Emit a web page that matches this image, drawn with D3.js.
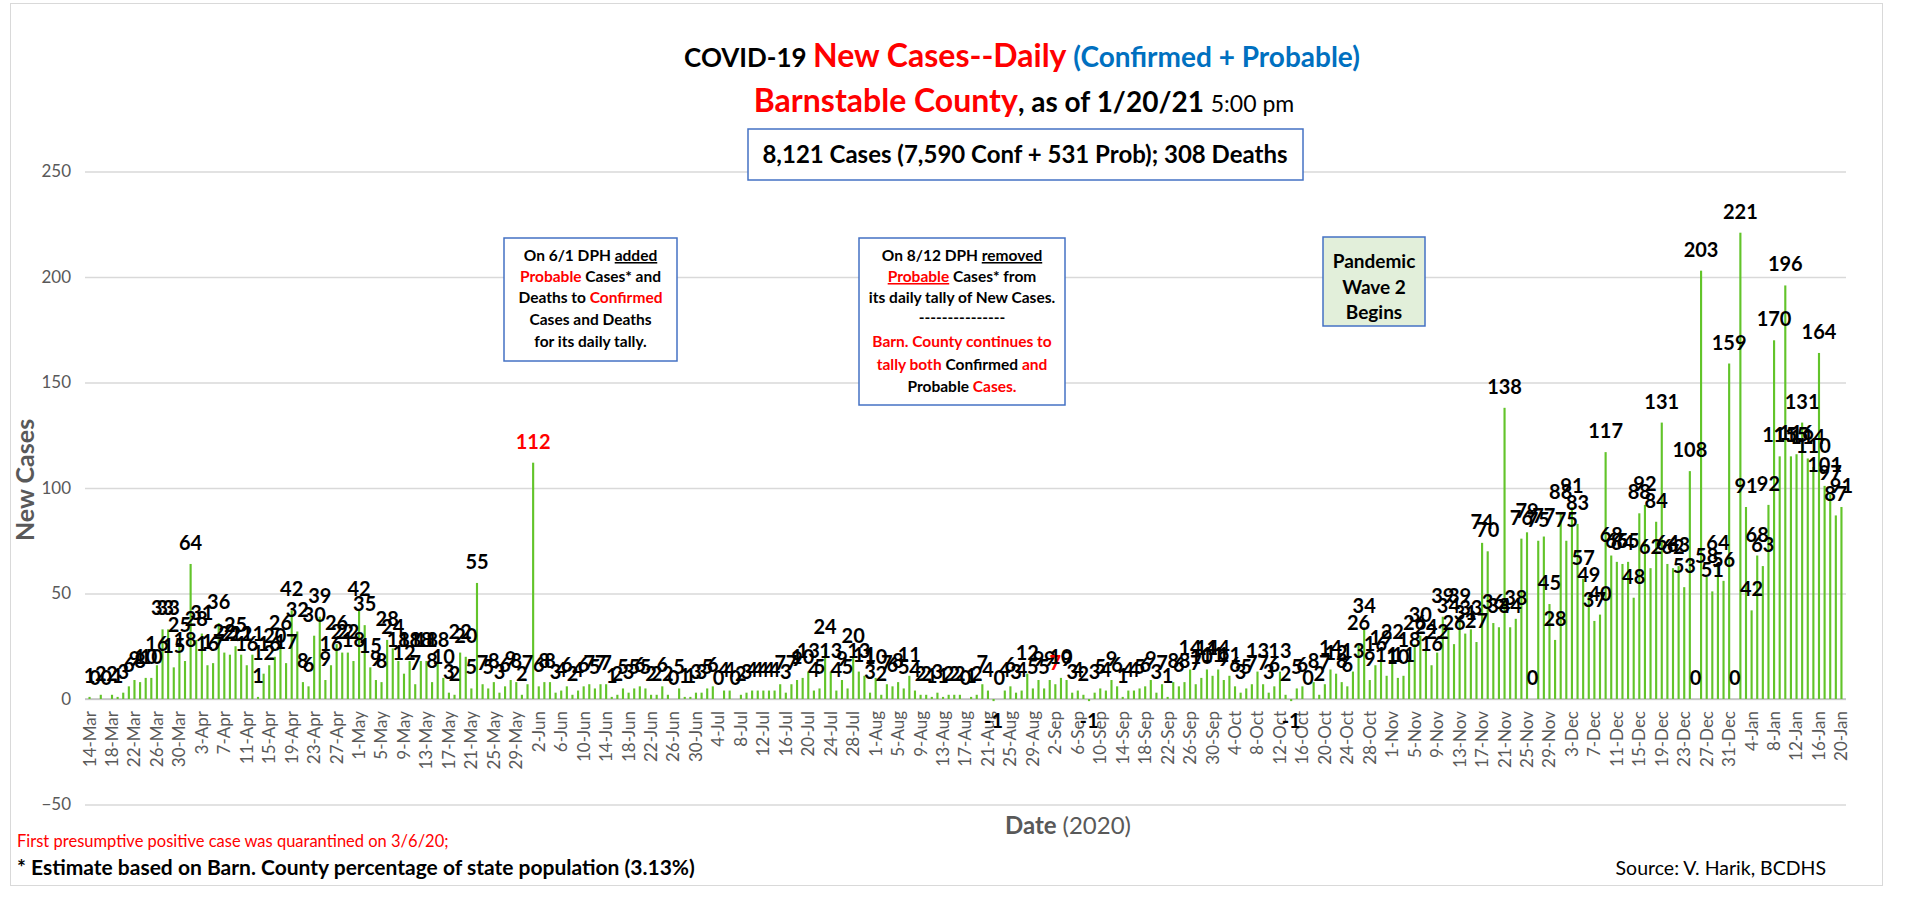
<!DOCTYPE html>
<html>
<head>
<meta charset="utf-8">
<script src="https://cdn.jsdelivr.net/npm/d3@7"></script>
<style>
    body { margin: 0; background: #fff; }
    svg { display: block; font-family: Lato, 'Open Sans', sans-serif; }
</style>
</head>
<body>
<div id="chart"></div>
<script>
// daily new cases, Barnstable County, 14-Mar-2020 .. 20-Jan-2021
const mar = [1, 0, 2, 0, 2, 1, 3, 6, 9, 8, 10, 10, 16, 33, 33, 15, 25, 18];
const apr = [64, 28, 31, 16, 17, 36, 22, 21, 25, 21, 16, 21, 1, 12, 16, 20, 26, 17, 42, 32,
             8, 6, 30, 39, 9, 16, 26, 22, 22, 18];
const may = [42, 35, 15, 9, 8, 28, 24, 18, 12, 18, 7, 18, 18, 8, 18, 10, 3, 2, 22, 20,
             5, 55, 7, 5, 8, 3, 6, 9, 8, 2, 7];
const jun = [112, 6, 8, 8, 3, 4, 6, 2, 4, 6, 7, 5, 7, 7, 1, 2, 5, 3, 5, 6,
             5, 2, 2, 6, 2, 0, 5, 1, 1, 3];
const jul = [3, 5, 6, 0, 4, 4, 0, 2, 3, 4, 4, 4, 4, 4, 7, 3, 7, 9, 10, 13,
             4, 5, 24, 13, 4, 9, 5, 20, 13, 11, 3];
const aug = [10, 2, 7, 6, 8, 5, 11, 4, 2, 2, 1, 3, 1, 2, 2, 2, 0, 1, 2, 7,
             4, -1, 0, 4, 6, 3, 4, 12, 5, 9, 5];
const sep = [9, 7, 10, 9, 3, 4, 2, -1, 3, 5, 4, 9, 6, 1, 4, 4, 5, 6, 9, 3,
             7, 1, 8, 6, 8, 14, 7, 10, 14, 11];
const oct = [14, 9, 11, 6, 3, 5, 7, 13, 7, 3, 6, 13, 2, -1, 5, 6, 0, 8, 2, 7,
             14, 12, 8, 6, 13, 26, 34, 9, 16, 19, 11];
const nov = [22, 10, 11, 18, 26, 30, 24, 16, 22, 39, 34, 26, 39, 31, 33, 27, 74, 70, 36, 34,
             138, 34, 38, 76, 79, 0, 75, 77, 45, 28];
const dec = [88, 75, 91, 83, 57, 49, 37, 40, 117, 68, 65, 64, 65, 48, 88, 92, 62, 84, 131, 64,
             62, 63, 53, 108, 0, 203, 58, 51, 64, 56, 159];
const jan = [0, 221, 91, 42, 68, 63, 92, 170, 115, 196, 115, 116, 131, 114, 110, 164, 101, 97, 87, 91];

const yTicks = [-50, 0, 50, 100, 150, 200, 250];
const redLabelDays = ['2020-06-01', '2020-09-02'];

const cases = [mar, apr, may, jun, jul, aug, sep, oct, nov, dec, jan].flat();
const startDay = new Date(2020, 2, 14);
const days = d3.timeDay.range(startDay, d3.timeDay.offset(startDay, cases.length));
const data = days.map((d, i) => ({ date: d, value: cases[i] }));
const tickDays = days.filter((d, i) => i % 4 === 0);

const width = 1906, height = 902;
const plot = { left: 85, right: 1846, top: 171.5, bottom: 804.5 };

const GREEN = '#62c42a';
const GREY = '#595959';
const RED = '#ff0000';
const BLUE = '#0070c0';
const fmtKey = d3.timeFormat('%Y-%m-%d');
const fmtTick = d3.timeFormat('%-d-%b');

const svg = d3.select('#chart').append('svg')
    .attr('width', width)
    .attr('height', height);

// chart frame
svg.append('rect')
    .attr('x', 10.5).attr('y', 3.5)
    .attr('width', 1872).attr('height', 882)
    .attr('fill', 'none')
    .attr('stroke', '#d9d9d9');

const x = d3.scaleBand()
    .domain(days)
    .range([plot.left, plot.right])
    .padding(0.62);

const y = d3.scaleLinear()
    .domain([-50, 250])
    .range([plot.bottom, plot.top]);

// gridlines + y labels
const yAxis = svg.append('g')
    .attr('transform', `translate(${plot.left},0)`)
    .call(d3.axisLeft(y).tickValues(yTicks).tickSize(-(plot.right - plot.left)).tickPadding(14));
yAxis.select('.domain').remove();
yAxis.selectAll('.tick line').attr('stroke', '#d9d9d9').attr('stroke-width', 1.5);
yAxis.selectAll('.tick text')
    .attr('fill', GREY)
    .style('font-size', '17px')
    .style('font-family', 'Lato, sans-serif');

// zero line
svg.append('line')
    .attr('x1', plot.left).attr('x2', plot.right)
    .attr('y1', y(0)).attr('y2', y(0))
    .attr('stroke', '#bfbfbf')
    .attr('stroke-width', 1.5);

// bars
svg.append('g').selectAll('rect')
    .data(data)
    .join('rect')
    .attr('x', d => x(d.date))
    .attr('width', x.bandwidth())
    .attr('y', d => y(Math.max(0, d.value)))
    .attr('height', d => Math.abs(y(d.value) - y(0)))
    .attr('fill', GREEN);

// x tick labels (every 4th day)
const xAxis = svg.append('g')
    .attr('transform', `translate(0,${y(0)})`)
    .call(d3.axisBottom(x).tickValues(tickDays).tickFormat(fmtTick).tickSize(0));
xAxis.select('.domain').remove();
xAxis.selectAll('.tick text')
    .attr('transform', 'rotate(-90)')
    .attr('text-anchor', 'end')
    .attr('x', -12)
    .attr('y', 0)
    .attr('dy', '0.35em')
    .attr('fill', GREY)
    .style('font-size', '17px')
    .style('font-family', 'Lato, sans-serif');

// data labels
svg.append('g').selectAll('text')
    .data(data)
    .join('text')
    .attr('x', d => x(d.date) + x.bandwidth() / 2)
    .attr('y', d => d.value >= 0 ? y(d.value) - 14 : y(d.value) + 27)
    .attr('text-anchor', 'middle')
    .attr('fill', d => redLabelDays.includes(fmtKey(d.date)) ? RED : '#000')
    .style('font-size', '20px')
    .style('font-weight', 'bold')
    .text(d => d.value);

// titles
const t1 = svg.append('text')
    .attr('x', 1022).attr('y', 67)
    .attr('text-anchor', 'middle')
    .style('font-weight', 'bold');
t1.append('tspan').text('COVID-19 ').style('font-size', '26px').attr('fill', '#000');
t1.append('tspan').text('New Cases--Daily').style('font-size', '32px').attr('fill', RED);
t1.append('tspan').text('  (Confirmed + Probable)').style('font-size', '28px').attr('fill', BLUE);

const t2 = svg.append('text')
    .attr('x', 1024).attr('y', 112)
    .attr('text-anchor', 'middle')
    .style('font-weight', 'bold');
t2.append('tspan').text('Barnstable County').style('font-size', '32px').attr('fill', RED);
t2.append('tspan').text(', as of 1/20/21 ').style('font-size', '28px').attr('fill', '#000');
t2.append('tspan').text('5:00 pm').style('font-size', '23px').style('font-weight', 'normal').attr('fill', '#000');

// totals box
svg.append('rect')
    .attr('x', 748).attr('y', 129).attr('width', 555).attr('height', 51)
    .attr('fill', '#fff').attr('stroke', '#4472c4').attr('stroke-width', 1.5);
svg.append('text')
    .attr('x', 1025).attr('y', 163)
    .attr('text-anchor', 'middle')
    .style('font-size', '24px').style('font-weight', 'bold')
    .text('8,121 Cases (7,590 Conf + 531 Prob); 308 Deaths');

// annotation boxes
function noteBox(box, lines, lineY) {
    svg.append('rect')
        .attr('x', box.x).attr('y', box.y).attr('width', box.w).attr('height', box.h)
        .attr('fill', box.fill || '#fff')
        .attr('stroke', '#4472c4').attr('stroke-width', 1.5);
    lines.forEach((segs, i) => {
        const t = svg.append('text')
            .attr('x', box.x + box.w / 2)
            .attr('y', lineY[i])
            .attr('text-anchor', 'middle')
            .style('font-size', box.size + 'px')
            .style('font-weight', 'bold');
        segs.forEach(s => {
            t.append('tspan')
                .text(s[0])
                .attr('fill', s[1] === 'r' ? RED : '#000')
                .attr('text-decoration', s[2] ? 'underline' : null);
        });
    });
}

noteBox({ x: 504, y: 238, w: 173, h: 123, size: 15.5 }, [
    [['On 6/1 DPH ', 'k'], ['added', 'k', 1]],
    [['Probable', 'r'], [' Cases* and', 'k']],
    [['Deaths to ', 'k'], ['Confirmed', 'r']],
    [['Cases and Deaths', 'k']],
    [['for its daily tally.', 'k']]
], [261, 282, 303, 325, 347]);

noteBox({ x: 859, y: 238, w: 206, h: 167, size: 15.5 }, [
    [['On 8/12 DPH ', 'k'], ['removed', 'k', 1]],
    [['Probable', 'r', 1], [' Cases* from', 'k']],
    [['its daily tally of New Cases.', 'k']],
    [['---------------', 'k']],
    [['Barn. County continues to', 'r']],
    [['tally both ', 'r'], ['Confirmed', 'k'], [' and', 'r']],
    [['Probable ', 'k'], ['Cases.', 'r']]
], [261, 282, 303, 323, 347, 370, 392]);

noteBox({ x: 1323, y: 237, w: 102, h: 89, size: 19, fill: '#e2efda' }, [
    [['Pandemic', 'k']],
    [['Wave 2', 'k']],
    [['Begins', 'k']]
], [268, 294, 319]);

// axis titles
svg.append('text')
    .attr('transform', `translate(34,480) rotate(-90)`)
    .attr('text-anchor', 'middle')
    .attr('fill', GREY)
    .style('font-size', '25px').style('font-weight', 'bold')
    .text('New Cases');

const xt = svg.append('text')
    .attr('x', 1068).attr('y', 834)
    .attr('text-anchor', 'middle')
    .attr('fill', GREY)
    .style('font-size', '24px');
xt.append('tspan').text('Date ').style('font-weight', 'bold');
xt.append('tspan').text('(2020)');

// footnotes
svg.append('text')
    .attr('x', 17).attr('y', 847)
    .attr('fill', RED)
    .style('font-size', '16.5px')
    .text('First presumptive positive case was quarantined on 3/6/20;');
svg.append('text')
    .attr('x', 17).attr('y', 875)
    .style('font-size', '21px').style('font-weight', 'bold')
    .text('* Estimate based on Barn. County percentage of state population (3.13%)');
svg.append('text')
    .attr('x', 1826).attr('y', 875)
    .attr('text-anchor', 'end')
    .style('font-size', '19.5px')
    .text('Source: V. Harik, BCDHS');

console.log('[chart] bars drawn:', data.length);
</script>
</body>
</html>
